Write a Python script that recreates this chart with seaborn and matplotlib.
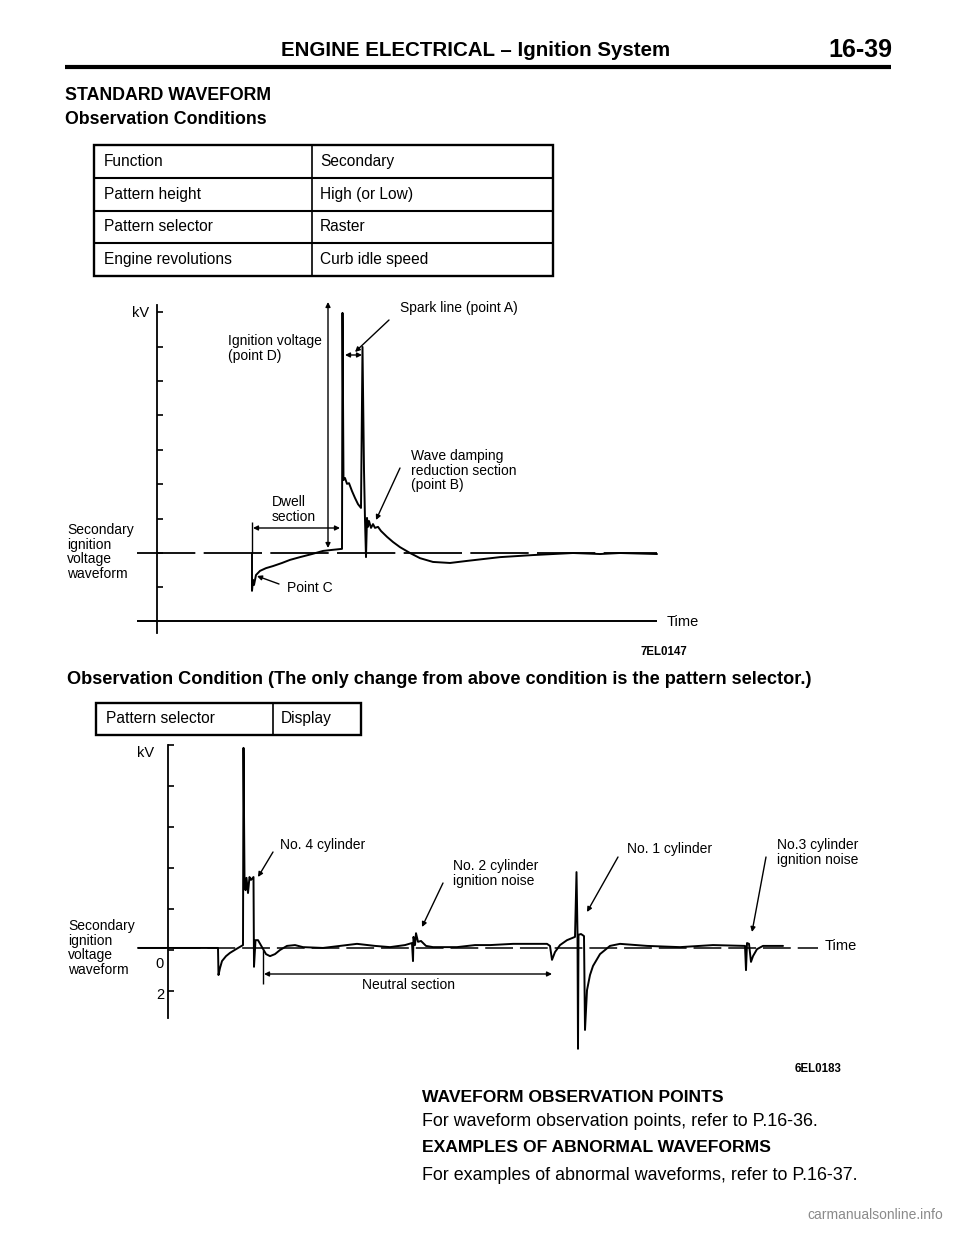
import numpy as np
import pandas as pd
import matplotlib
matplotlib.use("Agg")
import matplotlib.pyplot as plt
from matplotlib.patches import Rectangle
import seaborn as sns

sns.set_theme(style="white")
plt.rcParams['font.family'] = ['Liberation Sans', 'DejaVu Sans']
plt.rcParams['lines.scale_dashes'] = False

# ------------------------------------------------------------------ data
header_title = "ENGINE ELECTRICAL – Ignition System"
page_number = "16-39"
section_title = "STANDARD WAVEFORM"
sub_title = "Observation Conditions"
table1_keys = ["Function", "Pattern height", "Pattern selector", "Engine revolutions"]
table1_vals = ["Secondary", "High (or Low)", "Raster", "Curb idle speed"]
cond2_title = "Observation Condition (The only change from above condition is the pattern selector.)"
table2_keys = ["Pattern selector"]
table2_vals = ["Display"]

# Standard waveform (raster): time units, kV units (baseline = 0)
wave1_t = [11.5, 11.5, 11.6, 11.7, 11.9, 12.3, 12.9, 13.6, 14.5, 15.3, 16.3, 17.5, 18.6,
           19.5, 20.5, 20.55, 20.65, 20.8, 21.0, 21.2, 21.5, 21.8, 22.1, 22.4, 22.55,
           22.7, 22.8, 22.9, 23.0, 23.1, 23.2, 23.4, 23.6, 23.8, 24.1, 24.4, 25.0, 25.6,
           26.3, 27.3, 28.3, 29.6, 31.3, 33.0, 36.3, 39.6, 43.6, 46.3, 48.3, 52.0]
wave1_kv = [0.00, -1.10, -0.78, -0.93, -0.64, -0.52, -0.44, -0.38, -0.29, -0.20, -0.12,
            -0.03, 0.06, 0.09, 0.12, 6.98, 2.12, 2.18, 2.01, 2.03, 1.80, 1.60, 1.42, 1.31,
            5.99, 2.41, 0.96, -0.12, 1.02, 0.76, 0.93, 0.73, 0.84, 0.73, 0.76, 0.64, 0.47,
            0.32, 0.17, 0.00, -0.15, -0.26, -0.29, -0.23, -0.12, -0.06, 0.00, -0.03, 0.00,
            -0.03]

# Display pattern (all cylinders in a row)
wave2_t = [0.0, 8.0, 8.05, 8.2, 8.4, 8.8, 9.2, 9.8, 10.5, 10.55, 10.65, 10.75, 10.85, 11.0,
           11.15, 11.3, 11.55, 11.6, 11.75, 12.0, 12.4, 12.8, 13.2, 13.7, 14.2, 14.9, 15.7,
           16.5, 18.5, 20.2, 21.9, 23.7, 25.2, 26.7, 27.4, 27.5, 27.55, 27.7, 27.8, 28.0,
           28.3, 28.8, 29.5, 31.9, 33.7, 35.2, 37.5, 40.9, 41.2, 41.4, 41.7, 42.2, 42.9,
           43.7, 43.85, 43.95, 44.0, 44.05, 44.3, 44.6, 44.7, 44.9, 45.2, 45.5, 46.2, 47.2,
           48.2, 50.9, 54.2, 57.5, 60.7, 60.8, 60.9, 61.1, 61.3, 61.5, 61.9, 62.5, 64.5]
wave2_kv = [0.05, 0.05, -0.61, -0.44, -0.27, -0.15, -0.07, 0.02, 0.12, 4.93, 1.78, 1.46,
            1.76, 1.39, 1.78, 1.71, 1.78, -0.41, 0.24, 0.24, 0.07, -0.10, -0.15, -0.10,
            0.00, 0.10, 0.12, 0.07, 0.05, 0.10, 0.15, 0.10, 0.07, 0.12, 0.17, -0.27, 0.32,
            0.12, 0.41, 0.20, 0.22, 0.10, 0.07, 0.07, 0.12, 0.12, 0.15, 0.15, 0.10, -0.24,
            -0.05, 0.12, 0.24, 0.32, 1.90, 0.41, -2.41, 0.37, 0.39, 0.34, -1.95, -0.98,
            -0.61, -0.39, -0.10, 0.10, 0.15, 0.10, 0.07, 0.12, 0.10, -0.49, 0.17, 0.15,
            -0.29, -0.15, 0.02, 0.10, 0.10]

df1 = pd.DataFrame({"t": wave1_t, "kv": wave1_kv})
df2 = pd.DataFrame({"t": wave2_t, "kv": wave2_kv})

# ------------------------------------------------------------------ figure
W, H = 960, 1239
fig = plt.figure(figsize=(W / 100, H / 100), dpi=100)
fig.patch.set_facecolor("white")

bg = fig.add_axes([0, 0, 1, 1])
bg.set_xlim(0, W)
bg.set_ylim(H, 0)
bg.axis("off")
bg.set_zorder(0)

K = "black"
FS_ANN = 10
LS = 1.05
WLW = 1.4


def place_axes(px0, px1, py0, py1, x0, xs, y0, ys):
    ax = fig.add_axes([px0 / W, 1 - py1 / H, (px1 - px0) / W, (py1 - py0) / H])
    ax.set_xlim((px0 - x0) / xs, (px1 - x0) / xs)
    ax.set_ylim((y0 - py1) / ys, (y0 - py0) / ys)
    ax.set_facecolor("none")
    ax.set_zorder(2)
    for s in ["top", "right", "bottom"]:
        ax.spines[s].set_visible(False)
    ax.set_xticks([])
    return ax


# ---------------- header
bg.text(476, 51, header_title, ha="center", va="center", fontsize=14.8,
        fontweight="bold", color=K)
bg.text(892, 50, page_number, ha="right", va="center", fontsize=18, fontweight="bold", color=K)
bg.hlines(67, 65, 891, color=K, lw=3)

bg.text(65, 96, section_title, ha="left", va="center", fontsize=12.8, fontweight="bold", color=K)
bg.text(65, 120, sub_title, ha="left", va="center", fontsize=12.8, fontweight="bold", color=K)


def draw_table(keys, vals, left, right, split, top, rowh, fs=11.2):
    bottom = top + rowh * len(keys)
    bg.add_patch(Rectangle((left, top), right - left, bottom - top, fill=False,
                           lw=1.7, edgecolor=K))
    bg.vlines(split, top, bottom, color=K, lw=1.2)
    for i, (k, v) in enumerate(zip(keys, vals)):
        yc = top + rowh * (i + 0.5)
        if i > 0:
            bg.hlines(top + rowh * i, left, right, color=K, lw=1.5)
        bg.text(left + 10, yc, k, ha="left", va="center", fontsize=fs, color=K)
        bg.text(split + 8, yc, v, ha="left", va="center", fontsize=fs, color=K)


draw_table(table1_keys, table1_vals, 94, 553, 312, 145, 32.75)

# ---------------- chart 1 (standard waveform)
ax1 = place_axes(125, 705, 298, 640, 137, 10, 553, 34.4)
sns.lineplot(data=df1, x="t", y="kv", ax=ax1, sort=False, estimator=None,
             color=K, lw=WLW)
ax1.set_xlabel("")
ax1.set_ylabel("")
ax1.hlines(0, 0, 52, color=K, lw=1.3, linestyles=(0, (42, 6)))
ax1.hlines((553 - 621) / 34.4, 0, 52, color=K, lw=1.4)
ax1.spines["left"].set_position(("data", 2.0))
ax1.spines["left"].set_bounds((553 - 633) / 34.4, (553 - 305) / 34.4)
ax1.spines["left"].set_color(K)
ax1.spines["left"].set_linewidth(1.3)
ax1.set_yticks(np.arange(-1, 8))
ax1.tick_params(axis="y", direction="in", length=4, width=1.2, color=K,
                left=True, labelleft=False)

bg.text(149, 313, "kV", ha="right", va="center", fontsize=10.5, color=K)
bg.text(67, 523, "Secondary\nignition\nvoltage\nwaveform", ha="left", va="top",
        fontsize=FS_ANN, color=K, linespacing=LS)
bg.text(228, 334, "Ignition voltage\n(point D)", ha="left", va="top", fontsize=FS_ANN,
        color=K, linespacing=LS)
bg.text(400, 308, "Spark line (point A)", ha="left", va="center", fontsize=FS_ANN, color=K)
bg.text(411, 449, "Wave damping\nreduction section\n(point B)", ha="left", va="top",
        fontsize=FS_ANN, color=K, linespacing=LS)
bg.text(272, 495, "Dwell\nsection", ha="left", va="top", fontsize=FS_ANN, color=K,
        linespacing=LS)
bg.text(287, 588, "Point C", ha="left", va="center", fontsize=FS_ANN, color=K)
bg.text(667, 622, "Time", ha="left", va="center", fontsize=10.5, color=K)
bg.text(664, 652, "7EL0147", ha="center", va="center", fontsize=8.3, color=K,
        fontweight="bold")

aprops2 = dict(arrowstyle="<|-|>", color=K, lw=1.0, shrinkA=0, shrinkB=0, mutation_scale=7)
aprops1 = dict(arrowstyle="-|>", color=K, lw=1.0, shrinkA=0, shrinkB=0, mutation_scale=7)
bg.annotate("", xy=(328, 302), xytext=(328, 548), arrowprops=aprops2)
bg.annotate("", xy=(345, 355), xytext=(362, 355), arrowprops=aprops2)
bg.annotate("", xy=(253, 528), xytext=(340, 528), arrowprops=aprops2)
bg.vlines(252, 522, 553, color=K, lw=1.0)
bg.annotate("", xy=(355, 352), xytext=(389, 320), arrowprops=aprops1)
bg.annotate("", xy=(376, 520), xytext=(400, 468), arrowprops=aprops1)
bg.annotate("", xy=(257, 576), xytext=(279, 584), arrowprops=aprops1)

# ---------------- condition 2
bg.text(67, 679, cond2_title, ha="left", va="center", fontsize=13.1, fontweight="bold", color=K)
draw_table(table2_keys, table2_vals, 96, 361, 273, 703, 31.5)

# ---------------- chart 2 (display pattern)
ax2 = place_axes(125, 875, 735, 1060, 138, 10, 950, 41)
sns.lineplot(data=df2, x="t", y="kv", ax=ax2, sort=False, estimator=None,
             color=K, lw=WLW)
ax2.set_xlabel("")
ax2.set_ylabel("")
ax2.hlines(0.05, 0, 68, color=K, lw=1.1, linestyles=(0, (20, 5)))
ax2.spines["left"].set_position(("data", 3.0))
ax2.spines["left"].set_bounds((950 - 1018) / 41, 5.0)
ax2.spines["left"].set_color(K)
ax2.spines["left"].set_linewidth(1.3)
ax2.set_yticks([-1, 0, 1, 2, 3, 4, 5])
ax2.tick_params(axis="y", direction="in", length=4, width=1.2, color=K,
                left=True, labelleft=False)

bg.text(154, 753, "kV", ha="right", va="center", fontsize=10.5, color=K)
bg.text(160, 964, "0", ha="center", va="center", fontsize=10.5, color=K)
bg.text(160, 995, "2", ha="center", va="center", fontsize=10.5, color=K)
bg.text(68, 919, "Secondary\nignition\nvoltage\nwaveform", ha="left", va="top",
        fontsize=FS_ANN, color=K, linespacing=LS)
bg.text(280, 845, "No. 4 cylinder", ha="left", va="center", fontsize=FS_ANN, color=K)
bg.text(453, 859, "No. 2 cylinder\nignition noise", ha="left", va="top",
        fontsize=FS_ANN, color=K, linespacing=LS)
bg.text(627, 849, "No. 1 cylinder", ha="left", va="center", fontsize=FS_ANN, color=K)
bg.text(777, 838, "No.3 cylinder\nignition noise", ha="left", va="top",
        fontsize=FS_ANN, color=K, linespacing=LS)
bg.text(408, 985, "Neutral section", ha="center", va="center", fontsize=FS_ANN, color=K)
bg.text(825, 946, "Time", ha="left", va="center", fontsize=10.5, color=K)
bg.text(818, 1069, "6EL0183", ha="center", va="center", fontsize=8.3, color=K,
        fontweight="bold")

bg.annotate("", xy=(264, 974), xytext=(552, 974), arrowprops=aprops2)
bg.vlines(263, 950, 984, color=K, lw=1.0)
bg.annotate("", xy=(258, 877), xytext=(273, 852), arrowprops=aprops1)
bg.annotate("", xy=(422, 927), xytext=(443, 883), arrowprops=aprops1)
bg.annotate("", xy=(587, 912), xytext=(618, 857), arrowprops=aprops1)
bg.annotate("", xy=(752, 932), xytext=(766, 857), arrowprops=aprops1)

# ---------------- bottom text
bg.text(422, 1097, "WAVEFORM OBSERVATION POINTS", ha="left", va="center", fontsize=12.6,
        fontweight="bold", color=K)
bg.text(422, 1121, "For waveform observation points, refer to P.16-36.", ha="left",
        va="center", fontsize=12.9, color=K)
bg.text(422, 1148, "EXAMPLES OF ABNORMAL WAVEFORMS", ha="left", va="center", fontsize=12.6,
        fontweight="bold", color=K)
bg.text(422, 1175, "For examples of abnormal waveforms, refer to P.16-37.", ha="left",
        va="center", fontsize=12.9, color=K)
bg.text(943, 1215, "carmanualsonline.info", ha="right", va="center", fontsize=10,
        color="#8a8a8a")

fig.savefig("out.png", dpi=100, facecolor="white")
